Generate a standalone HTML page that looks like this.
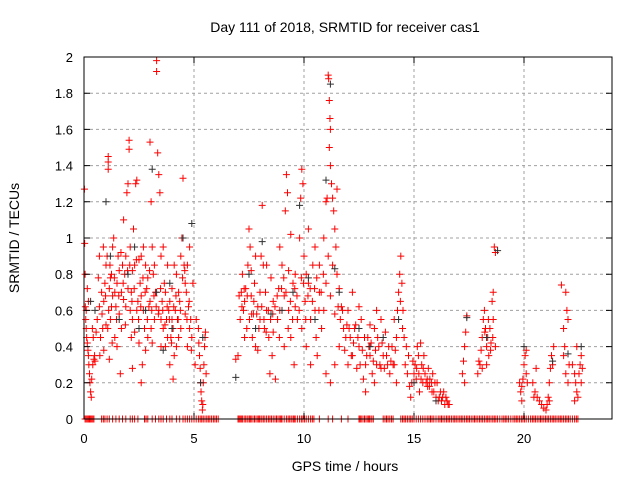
<!DOCTYPE html>
<html><head><meta charset="utf-8"><style>
html,body{margin:0;padding:0;background:#fff;width:640px;height:480px;overflow:hidden}
svg{display:block;font-family:"Liberation Sans",sans-serif}
</style></head><body>
<svg id="chart" width="640" height="480" viewBox="0 0 640 480" xmlns="http://www.w3.org/2000/svg">
<text x="345" y="32" font-size="14" text-anchor="middle">Day 111 of 2018, SRMTID for receiver cas1</text>
<text x="345" y="471" font-size="14" text-anchor="middle">GPS time / hours</text>
<text x="19" y="238" font-size="14" text-anchor="middle" transform="rotate(-90 19 238)">SRMTID / TECUs</text>
<g id="grid"></g>
<g id="marks"></g>
<rect x="84" y="57" width="528" height="362" fill="none" stroke="#000" stroke-width="1"/>
<g id="axes"></g>
</svg>
<script>
const xTicks = [0,5,10,15,20];
const xTickLabels = ["0","5","10","15","20"];
const yTicks = [0,0.2,0.4,0.6,0.8,1,1.2,1.4,1.6,1.8,2];
const yTickLabels = ["0","0.2","0.4","0.6","0.8","1","1.2","1.4","1.6","1.8","2"];
const redTimes = [0.02,0.03,0.05,0.06,0.08,0.1,0.12,0.15,0.18,0.2,0.22,0.25,0.27,0.3,0.33,0.35,0.4,0.45,0.48,0.42,0.38,0.5,0.1,0.15,0.2,
0.6,0.7,0.75,0.8,0.85,0.9,0.95,1.0,1.05,1.1,1.1,1.1,1.12,1.15,1.2,1.25,1.3,1.35,1.4,1.45,1.5,1.55,1.6,1.65,1.7,1.75,1.8,1.85,1.9,1.95,2.0,2.05,2.05,2.1,2.15,2.2,2.25,2.3,2.35,2.4,2.45,2.5,2.55,2.6,2.65,2.7,2.75,2.8,2.85,2.9,2.95,3.0,3.05,3.1,3.15,3.2,3.25,3.3,3.3,3.35,3.4,3.45,3.5,3.55,3.6,3.65,3.7,3.75,3.8,3.85,3.9,3.95,4.0,4.05,4.1,4.15,4.2,4.25,4.3,4.35,4.4,4.45,4.5,4.55,4.6,4.65,4.7,4.75,4.8,4.85,4.9,4.95,
0.7,0.9,1.0,1.2,1.3,1.4,1.5,1.6,1.7,1.8,1.9,2.0,2.1,2.2,2.3,2.4,2.5,2.6,2.7,2.8,2.9,3.0,3.1,3.2,3.4,3.5,3.6,3.7,3.8,3.9,4.0,4.1,4.2,4.3,4.4,4.6,4.7,4.8,2.2,1.15,3.5,4.05,2.6,
0.55,0.65,0.72,0.82,0.88,0.98,1.08,1.18,1.28,1.38,1.48,1.58,1.68,1.78,1.88,1.98,2.08,2.18,2.28,2.38,2.48,2.58,2.68,2.78,2.88,2.98,3.08,3.18,3.28,3.38,3.48,3.58,3.68,3.78,3.88,3.98,4.08,4.18,4.28,4.38,4.48,4.58,4.68,4.78,4.88,1.25,2.15,3.05,
5.2,5.22,5.25,5.28,5.3,5.32,5.35,5.38,5.4,5.42,5.45,5.48,5.5,5.52,5.55,5.1,5.05,
6.9,7.0,7.1,7.15,7.2,7.25,7.3,7.35,7.4,7.45,7.5,7.55,7.6,7.65,7.7,7.75,7.8,7.9,8.0,8.05,8.1,8.15,8.2,8.25,8.3,8.4,8.5,8.55,8.6,8.7,8.8,8.85,8.9,9.0,9.1,9.15,9.2,9.25,9.3,9.4,9.5,9.55,9.6,9.7,9.8,9.85,9.9,9.95,10.0,10.05,10.1,10.2,10.3,10.4,10.5,10.55,10.6,10.7,10.8,
7.3,7.6,7.9,8.0,8.3,8.6,8.9,9.1,9.3,9.6,9.9,10.1,10.3,10.5,10.7,9.4,8.45,7.8,10.9,10.2,
7.05,7.18,7.28,7.42,7.52,7.62,7.72,7.85,7.95,8.08,8.18,8.28,8.38,8.48,8.58,8.68,8.78,8.88,8.98,9.08,9.18,9.28,9.38,9.48,9.58,9.68,9.78,9.88,9.98,10.08,10.18,10.28,10.38,10.48,10.58,10.68,10.78,10.88,
10.9,11.0,11.05,11.1,11.12,11.15,11.18,11.2,11.15,11.2,11.25,11.3,11.35,11.4,11.5,11.45,11.3,11.1,11.0,11.2,11.4,11.5,11.6,11.7,11.8,11.6,11.4,11.0,11.2,11.9,
12.0,12.1,12.2,12.3,12.4,12.5,12.6,12.7,12.8,12.9,13.0,13.1,13.2,13.3,13.4,13.5,13.6,13.7,13.8,13.9,14.0,14.1,14.2,14.3,14.35,14.4,14.45,14.5,12.2,12.5,13.0,13.5,12.8,13.3,12.0,14.1,14.2,13.2,
11.55,11.65,11.75,11.85,11.95,12.05,12.15,12.25,12.35,12.45,12.55,12.65,12.75,12.85,12.95,13.05,13.15,13.25,13.35,13.45,13.55,13.65,13.75,13.85,13.95,14.05,14.15,14.25,14.38,14.48,
14.55,14.6,14.7,14.8,14.9,15.0,15.05,15.1,15.2,15.3,15.35,15.4,15.5,15.6,15.7,15.8,15.9,16.0,16.1,16.2,16.3,16.4,16.5,16.6,14.75,15.15,15.45,15.65,15.85,16.05,14.85,15.25,
14.65,14.95,15.12,15.22,15.32,15.42,15.55,15.62,15.72,15.82,15.95,16.15,16.25,16.35,16.45,16.55,
17.2,17.25,17.3,17.35,17.4,17.3,
17.9,17.95,18.0,18.1,18.15,18.2,18.25,18.3,18.35,18.4,18.45,18.5,18.6,18.65,18.7,18.6,18.55,18.3,18.1,18.7,
18.05,18.22,18.38,18.48,18.58,
19.8,19.85,19.9,19.95,20.0,20.05,20.1,20.15,19.9,20.1,
20.4,20.5,20.6,20.7,20.8,20.9,21.0,21.05,20.55,20.45,
21.1,21.15,21.2,21.25,21.3,21.35,21.15,
21.7,21.8,21.85,21.9,21.95,22.0,22.05,21.9,22.0,21.8,
22.2,22.3,22.35,22.4,22.45,22.5,22.55,22.6,22.65,22.4,22.6,22.3];
const redValues = [1.27,0.97,0.8,0.62,0.55,0.5,0.45,0.42,0.38,0.35,0.3,0.25,0.2,0.15,0.12,0.22,0.3,0.33,0.35,0.45,0.5,0.32,0.6,0.72,0.65,
0.55,0.62,0.45,0.7,0.5,0.65,0.75,0.85,0.9,1.42,1.45,1.38,0.6,0.72,0.55,0.8,0.68,1.0,0.45,0.62,0.75,0.9,0.58,0.25,0.7,0.85,1.1,0.8,0.62,1.25,1.3,1.54,1.49,0.95,0.7,0.55,1.05,0.85,1.3,1.32,0.65,0.42,0.75,0.9,0.3,0.6,0.5,0.85,0.72,0.45,0.62,1.53,1.2,0.95,0.8,0.55,0.7,1.98,1.92,1.47,1.35,1.25,0.9,0.65,0.5,0.75,0.4,0.55,0.85,0.6,0.3,0.45,0.72,0.5,0.35,0.6,0.8,0.55,0.45,0.65,0.9,1.0,1.33,0.85,0.58,0.7,0.4,0.62,0.95,0.55,0.45,0.75,
0.9,0.38,0.52,0.78,0.95,0.7,0.4,0.82,0.5,0.66,0.9,0.72,0.6,0.82,0.48,0.6,0.88,0.68,0.95,0.38,0.78,0.65,0.42,0.85,0.6,0.55,0.95,0.7,0.45,0.65,0.55,0.85,0.4,0.7,0.5,0.75,0.85,0.5,0.28,0.33,0.4,0.22,0.2,
0.48,0.78,0.35,0.58,0.95,0.68,0.5,0.85,0.42,0.78,0.55,0.68,0.92,0.75,0.52,0.82,0.85,0.65,0.72,0.88,0.55,0.62,0.78,0.7,0.55,0.82,0.6,0.68,0.62,0.58,0.72,0.6,0.52,0.62,0.55,0.42,0.62,0.68,0.55,0.6,0.78,0.82,0.55,0.65,0.38,0.62,0.45,0.5,
0.5,0.42,0.35,0.28,0.2,0.15,0.1,0.05,0.08,0.2,0.3,0.4,0.45,0.48,0.25,0.55,0.3,
0.33,0.35,0.55,0.7,0.8,0.6,0.65,0.72,0.5,0.85,1.05,0.95,0.68,0.45,0.58,0.75,0.4,0.62,0.55,0.9,1.18,0.85,0.5,0.7,0.6,0.45,0.78,0.35,0.65,0.22,0.55,0.72,0.95,0.85,0.68,1.15,1.35,1.25,0.6,0.45,0.75,0.3,0.8,0.55,1.0,1.22,1.38,1.3,0.9,0.65,0.4,0.75,0.55,0.85,0.6,0.45,0.35,0.7,0.5,
0.45,0.82,0.38,0.7,0.85,0.48,0.6,0.4,0.82,0.62,0.5,0.8,0.3,0.95,0.85,1.02,0.25,0.9,0.6,1.05,
0.68,0.62,0.72,0.68,0.55,0.58,0.65,0.58,0.5,0.62,0.55,0.48,0.6,0.55,0.58,0.62,0.68,0.45,0.72,0.78,0.7,0.5,0.65,0.55,0.72,0.68,0.6,0.78,0.75,0.55,0.68,0.72,0.65,0.72,0.78,0.6,0.7,0.8,
1.0,1.2,1.22,1.9,1.88,1.76,1.66,1.6,1.5,1.4,1.3,1.22,1.15,1.05,1.27,0.95,0.85,0.9,0.75,0.68,0.58,0.8,0.72,0.62,0.5,0.4,0.3,0.25,0.2,0.45,
0.6,0.45,0.35,0.5,0.28,0.4,0.55,0.22,0.3,0.45,0.35,0.25,0.5,0.3,0.4,0.28,0.35,0.48,0.3,0.25,0.4,0.55,0.45,0.7,0.8,0.9,0.75,0.6,0.7,0.62,0.52,0.55,0.15,0.6,0.3,0.3,0.2,0.2,
0.62,0.55,0.6,0.38,0.52,0.5,0.35,0.42,0.52,0.45,0.3,0.38,0.45,0.35,0.4,0.42,0.32,0.38,0.45,0.3,0.42,0.28,0.35,0.4,0.32,0.3,0.38,0.6,0.65,0.5,
0.45,0.3,0.25,0.18,0.2,0.25,0.3,0.22,0.35,0.42,0.3,0.2,0.25,0.22,0.18,0.2,0.15,0.12,0.1,0.15,0.12,0.08,0.1,0.08,0.35,0.4,0.35,0.28,0.25,0.2,0.12,0.15,
0.4,0.32,0.28,0.25,0.22,0.28,0.2,0.18,0.22,0.15,0.2,0.12,0.1,0.15,0.12,0.08,
0.25,0.32,0.4,0.48,0.57,0.2,
0.25,0.32,0.3,0.45,0.55,0.6,0.5,0.4,0.45,0.35,0.5,0.42,0.55,0.95,0.92,0.7,0.65,0.3,0.28,0.4,
0.38,0.48,0.55,0.38,0.45,
0.2,0.15,0.18,0.22,0.3,0.35,0.38,0.2,0.1,0.25,
0.2,0.15,0.12,0.1,0.08,0.06,0.05,0.08,0.28,0.12,
0.12,0.2,0.28,0.35,0.3,0.4,0.1,
0.74,0.5,0.4,0.7,0.6,0.55,0.3,0.25,0.2,0.35,
0.3,0.25,0.2,0.15,0.12,0.25,0.3,0.35,0.28,0.4,0.2,0.1];
const blackTimes = [0.3,0.5,1.0,1.2,1.6,2.0,2.3,2.8,3.1,3.3,3.6,4.0,4.5,4.9,5.3,5.4,6.9,7.5,8.1,8.5,9.0,9.8,10.2,10.5,11.0,11.2,11.4,11.6,12.5,13.0,13.6,14.3,15.0,16.0,17.4,18.3,18.8,20.0,21.3,22.0,22.6,9.5,7.8,2.5,3.9];
const blackValues = [0.65,0.6,1.2,0.9,0.55,0.8,0.95,0.6,1.38,0.7,0.38,0.5,1.0,1.08,0.2,0.45,0.23,0.8,0.98,0.58,0.6,1.18,0.78,0.55,1.32,1.85,0.83,0.7,0.5,0.4,0.45,0.55,0.2,0.1,0.56,0.45,0.93,0.4,0.32,0.36,0.4,0.7,0.5,0.5,0.75];
const zeroTimes = [0.05,0.1,0.15,0.2,0.25,0.3,0.35,0.4,0.45,0.8,0.88,0.95,1.05,1.15,1.3,1.45,1.6,1.75,1.9,2.1,2.2,2.3,2.45,2.75,2.82,2.9,3.1,3.25,3.4,3.5,3.6,3.75,3.9,4.0,4.2,4.35,4.5,4.6,4.7,4.8,4.9,5.0,5.1,5.2,5.28,5.35,5.42,5.5,5.58,5.65,5.72,5.8,5.88,5.95,6.02,6.1,7.0,7.05,7.1,7.15,7.2,7.28,7.35,7.42,7.5,7.55,7.6,7.68,7.75,7.82,7.9,7.95,8.0,8.08,8.15,8.22,8.3,8.38,8.45,8.52,8.6,8.68,8.75,8.82,8.9,8.95,9.0,9.1,9.2,9.28,9.35,9.42,9.5,9.55,9.6,9.7,9.8,9.88,9.95,10.02,10.1,10.2,10.3,10.38,10.45,10.7,11.1,11.3,11.7,12.0,12.5,12.55,12.6,12.68,12.75,12.82,12.9,12.95,13.0,13.08,13.15,13.6,13.68,13.75,13.82,13.9,13.98,14.05,14.4,14.48,14.55,14.62,14.7,14.78,14.85,14.92,15.0,15.1,15.2,15.3,15.4,15.5,15.6,15.68,15.75,15.82,15.9,16.0,16.1,16.18,16.25,16.32,16.4,16.48,16.55,16.62,16.7,16.78,16.85,16.92,17.0,17.08,17.15,17.22,17.3,17.38,17.45,17.52,17.6,17.68,17.75,17.82,17.9,17.98,18.05,18.12,18.2,18.28,18.35,18.42,18.5,18.58,18.65,18.72,18.8,18.9,19.0,19.08,19.15,19.22,19.3,19.4,19.5,19.58,19.65,19.72,19.8,19.88,19.95,20.02,20.1,20.2,20.3,20.38,20.45,20.52,20.6,20.68,20.75,20.82,20.9,20.98,21.05,21.12,21.2,21.28,21.35,21.42,21.5,21.58,21.65,21.72,21.8,21.88,21.95,22.02,22.1,22.2,22.3,22.38,22.45];

const X0=84, X1=612, Y0=419, Y1=57, XMAX=24, YMAX=2;
function xs(t){return X0+(X1-X0)*t/XMAX;}
function ys(v){return Y0-(Y0-Y1)*v/YMAX;}
const NS="http://www.w3.org/2000/svg";
const grid=document.getElementById('grid'), axes=document.getElementById('axes'), marks=document.getElementById('marks');
function mk(tag,attrs,parent){const e=document.createElementNS(NS,tag);for(const k in attrs)e.setAttribute(k,attrs[k]);parent.appendChild(e);return e;}
xTicks.forEach((t,i)=>{
  const x=xs(t);
  if(t>0){const g=mk('line',{x1:x,y1:Y1,x2:x,y2:Y0,stroke:'#a0a0a0','stroke-dasharray':'3,3'},grid);
  
  }
  const tk=mk('path',{d:`M${x},${Y0}v-6M${x},${Y1}v6`,stroke:'#000'},axes);
  
  
  const lb=mk('text',{x:x,y:443,'font-size':13,'text-anchor':'middle'},axes);
  lb.textContent=xTickLabels[i];
  
  
});
yTicks.forEach((v,i)=>{
  const y=ys(v);
  if(v>0&&v<YMAX){const g=mk('line',{x1:X0,y1:y,x2:X1,y2:y,stroke:'#a0a0a0','stroke-dasharray':'3,3'},grid);
  
  }
  const tk=mk('path',{d:`M${X0},${y}h6M${X1},${y}h-6`,stroke:'#000'},axes);
  
  
  const lb=mk('text',{x:73,y:y+5,'font-size':13,'text-anchor':'end'},axes);
  lb.textContent=yTickLabels[i];
  
  
});
function plus(t,v,col,name){
  const x=xs(t),y=ys(v);
  const p=mk('path',{d:`M${x-3.5},${y}h7M${x},${y-3.5}v7`,stroke:col,'stroke-width':1},marks);
  
  
}
zeroTimes.forEach(t=>plus(t,0,'#ff0000','zero-point'));
redTimes.forEach((t,i)=>plus(t,redValues[i],'#ff0000','srmtid-point-red'));
blackTimes.forEach((t,i)=>plus(t,blackValues[i],'#303030','srmtid-point-black'));
</script>
</body></html>
